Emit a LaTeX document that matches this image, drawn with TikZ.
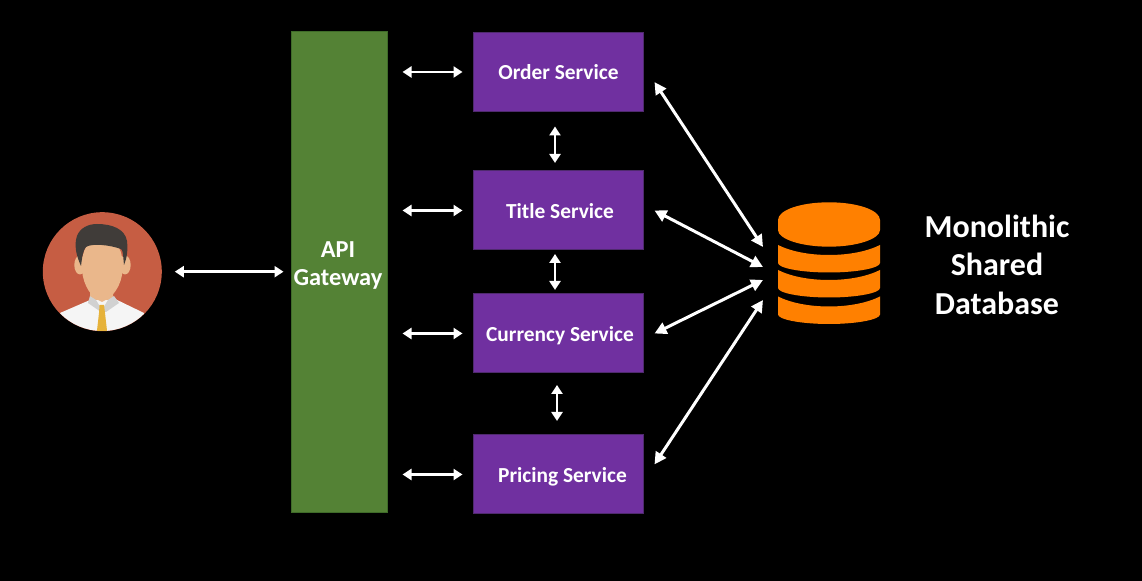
\documentclass[tikz,border=0pt]{standalone}
\usepackage{fontspec}
\setmainfont{Carlito}
\usetikzlibrary{arrows.meta}
\definecolor{servicefill}{HTML}{7030A0}
\definecolor{serviceline}{HTML}{4F2A6E}
\definecolor{gatewayfill}{HTML}{548235}
\definecolor{gatewayline}{HTML}{3F6B29}
\definecolor{dborange}{HTML}{FF8000}
\definecolor{userred}{HTML}{C65D43}
\definecolor{userskin}{HTML}{EAB78B}
\definecolor{userhair}{HTML}{403C39}
\definecolor{usertie}{HTML}{E6B23A}
\begin{document}
\begin{tikzpicture}[
  x=0.5pt, y=-0.5pt,
  service/.style={draw=serviceline, fill=servicefill, line width=0.5pt, minimum width=85pt, minimum height=39.5pt, inner sep=0pt, outer sep=5.5pt, text=white, text height=10pt, text depth=2pt, font=\bfseries\fontsize{10.7}{12}\selectfont},
  gateway/.style={draw=gatewayline, fill=gatewayfill, line width=0.5pt, minimum width=48pt, minimum height=240.5pt, inner sep=0pt, outer sep=7.5pt},
  gatewaytext/.style={text=white, align=center, inner sep=0pt, font=\bfseries\fontsize{12.2}{14}\selectfont},
  link/.style={white, line width=1.2pt, {Triangle[length=4.5pt,width=5.5pt]}-{Triangle[length=4.5pt,width=5.5pt]}},
  dblink/.style={white, line width=1.5pt, {Triangle[length=6pt,width=6pt]}-{Triangle[length=6pt,width=6pt]}}
]
\fill [black] (0,0) rectangle (1142,581);
\useasboundingbox (0,0) rectangle (1142,581);

\node [gateway] (gateway) at (339.5,272.5) {};
\node [gatewaytext] (gatewaylabel) at (338,265.5) {API\\Gateway};
\node [service] (order) at (558.5,72) {Order Service};
\node [service] (title) at (558.5,210.5) {\hspace{1.5pt}Title Service};
\node [service] (currency) at (558.5,333.5) {\hspace{1.5pt}Currency Service};
\node [service] (pricing) at (558.5,474.5) {\hspace{4pt}Pricing Service};
\node [circle, fill=userred, minimum size=59.5pt, inner sep=0pt, outer sep=6.5pt] (user) at (102.3,271.7) {};

\begin{scope}
\clip (102.3,271.7) circle [radius=59.3];
\fill [white!96!black] (60,313) -- (90,300) -- (113,298) -- (144,313) -- (144,335) -- (60,335) -- cycle;
\fill [userskin] (90,285) rectangle (113,300);
\fill [white!82!black] (90,296) -- (96,300) -- (102,310) -- (108,300) -- (114,296) -- (119,303) -- (106,312) -- (101,312) -- (88,303) -- cycle;
\fill [userskin] (90,296) -- (102,302) -- (113,296) -- (113,288) -- (90,288) -- cycle;
\fill [usertie] (99.5,305) -- (104,305) -- (105,313) -- (107.5,335) -- (96.5,335) -- (99,313) -- cycle;
\end{scope}
\fill [userskin] (80,265) ellipse [x radius=5.7, y radius=9.5];
\fill [userskin] (125,265) ellipse [x radius=5.7, y radius=9.5];
\fill [userskin] (102,240) .. controls (85,240) and (82,250) .. (82,270) .. controls (83,285) and (92,300) .. (102,300) .. controls (112,300) and (122,285) .. (122.5,270) .. controls (123,250) and (119,240) .. (102,240) -- cycle;
\fill [userhair] (81,266) .. controls (76,255) and (74,245) .. (77,236) .. controls (80,228) and (88,224) .. (97,224) .. controls (112,224) and (125,229) .. (127,241) .. controls (128,250) and (127,258) .. (124,265) .. controls (123,255) and (123,250) .. (121,249) .. controls (110,245) and (92,243) .. (86,247) .. controls (83,250) and (82,258) .. (81,266) -- cycle;

\fill [dborange] (778,220) .. controls (778,210) and (801,202.3) .. (829,202.3) .. controls (857,202.3) and (880,210) .. (880,220) -- (880,230) .. controls (880,239) and (857,246.7) .. (829,246.7) .. controls (801,246.7) and (778,239) .. (778,230) -- cycle;
\foreach \y in {245,270,296.5}
  \fill [dborange] (778,\y) .. controls (790,\y+6) and (808,\y+10) .. (829,\y+10) .. controls (850,\y+10) and (868,\y+6) .. (880,\y) -- (880,\y+18) .. controls (880,\y+23) and (857,\y+27.5) .. (829,\y+27.5) .. controls (801,\y+27.5) and (778,\y+23) .. (778,\y+18) -- cycle;

\coordinate (dbtop) at (763,247);
\coordinate (dbupper) at (763,267);
\coordinate (dblower) at (763,280);
\coordinate (dbbottom) at (763,300);

\draw [link, shorten >=-3.5pt] (user.east) -- (gateway.west |- user.east);
\draw [link] (gateway.east |- order.west) -- (order.west);
\draw [link] (gateway.east |- title.west) -- (title.west);
\draw [link] (gateway.east |- currency.west) -- (currency.west);
\draw [link] (gateway.east |- pricing.west) -- (pricing.west);

\draw [link, shorten <=2pt, shorten >=-1.5pt] ([xshift=-1.75pt]order.south) -- ([xshift=-1.75pt]title.north);
\draw [link, shorten <=-3.5pt, shorten >=-3.5pt] ([xshift=-1.75pt]title.south) -- ([xshift=-1.75pt]currency.north);
\draw [link, shorten <=0.5pt, shorten >=1.5pt] ([xshift=-0.75pt]currency.south) -- ([xshift=-0.75pt]pricing.north);

\draw [dblink] (order.-6.5) -- (dbtop);
\draw [dblink] (title.east) -- (dbupper);
\draw [dblink] (currency.east) -- (dblower);
\draw [dblink] (pricing.6.8) -- (dbbottom);

\node [text=white, align=center, font=\bfseries\fontsize{16}{19.25}\selectfont, inner sep=0pt] (dblabel) at (997,264.5) {Monolithic\\Shared\\Database};
\end{tikzpicture}
\end{document}
